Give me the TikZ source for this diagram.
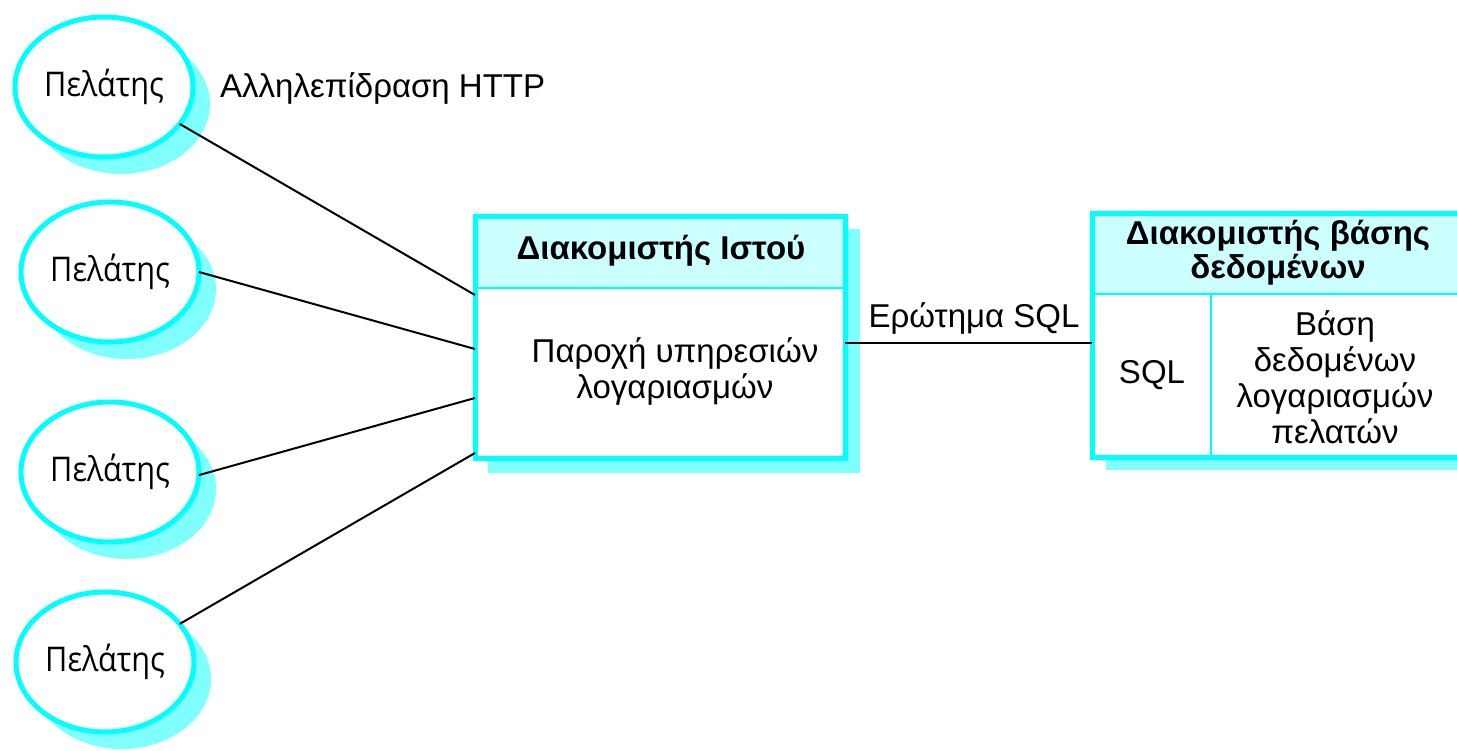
\documentclass[tikz,border=0pt]{standalone}
\usepackage{fontspec}
\setmainfont{Liberation Sans}
\newfontfamily\clientfont[FakeStretch=0.9]{Open Sans}
\usetikzlibrary{shapes.geometric}
\definecolor{cyanline}{HTML}{00FFFF}
\definecolor{shadowc}{HTML}{80FFFF}
\definecolor{hdrc}{HTML}{CCFFFF}
\begin{document}
\begin{tikzpicture}[x=1pt,y=-1pt,
  client/.style={ellipse,draw=cyanline,line width=5pt,fill=white,inner sep=0pt,outer sep=0pt,
    minimum width=178pt,minimum height=140pt,font=\clientfont\fontsize{34}{40}\selectfont},
  boxline/.style={draw=cyanline,line width=5pt},
  conn/.style={draw=black,line width=2pt},
  lbl/.style={inner sep=0pt,font=\fontsize{33}{38}\selectfont},
  hdr/.style={inner sep=0pt,align=center,font=\bfseries\fontsize{33}{34}\selectfont},
  body/.style={inner sep=0pt,align=center,font=\fontsize{33}{36}\selectfont}
]
\useasboundingbox (0,0) rectangle (1457,750);
% shadows
\foreach \cx/\cy in {104/87,110/272,110/472,105/662}{
  \fill[shadowc] (\cx+17,\cy+17) ellipse [x radius=89,y radius=70];
}
\fill[shadowc] (488,229) rectangle (860,473);
\fill[shadowc] (1106,228) rectangle (1470,470);
% clients
\node[client] (c1) at (104,87) {Πελάτης};
\node[client] (c2) at (110,272) {Πελάτης};
\node[client] (c3) at (110,472) {Πελάτης};
\node[client] (c4) at (105,662) {Πελάτης};
% web server box
\node[fill=white,draw=cyanline,line width=5pt,inner sep=0pt,outer sep=0pt,
  minimum width=370pt,minimum height=242pt] (web) at (660,337) {};
\fill[hdrc] (web.north west) rectangle (845,288);
\draw[boxline] (web.north west) rectangle (web.south east);
\draw[draw=cyanline,line width=2.5pt] (web.west |- 0,288) -- (web.east |- 0,288);
\node[hdr] (webh) at (661,251) {Διακομιστής Ιστού};
\node[body] (webb) at (675,371) {Παροχή υπηρεσιών\\λογαριασμών};
% database server box
\node[fill=white,inner sep=0pt,outer sep=0pt,minimum width=373pt,minimum height=244pt] (db) at (1278.5,335) {};
\fill[hdrc] (db.north west) rectangle (1465,294);
\draw[boxline] (db.north west) rectangle (db.south east);
\draw[draw=cyanline,line width=2.5pt] (db.west |- 0,294) -- (1465,294);
\draw[draw=cyanline,line width=2.5pt] (1211,294) -- (1211,457);
\node[hdr] (dbh) at (1278,253) {Διακομιστής βάσης\\δεδομένων};
\node[body] (sql) at (1152,375) {SQL};
\node[body] (dbb) at (1335,377) {Βάση\\δεδομένων\\λογαριασμών\\πελατών};
% connectors
\draw[conn] (c1.-26) -- (web.west |- 0,295);
\draw[conn] (c2.east) -- (web.west |- 0,349);
\draw[conn] (c3.-2) -- (web.west |- 0,398);
\draw[conn] (c4.27) -- (web.west |- 0,453);
\draw[conn] (web.east |- 0,343) -- (db.west |- 0,343);
% labels
\node[lbl,anchor=west] (http) at (220,88) {Αλληλεπίδραση HTTP};
\node[lbl] (sqlq) at (974,318) {Ερώτημα SQL};
\end{tikzpicture}
\end{document}
